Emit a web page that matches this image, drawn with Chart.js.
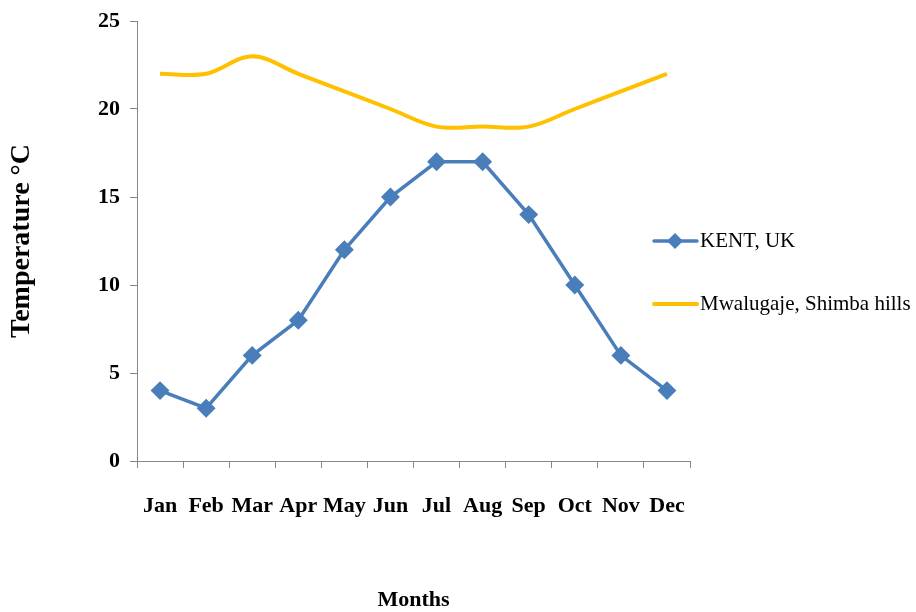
<!DOCTYPE html>
<html>
<head>
<meta charset="utf-8">
<script src="https://cdn.jsdelivr.net/npm/chart.js@4.4.0/dist/chart.umd.min.js"></script>
<style>
  html, body { margin: 0; padding: 0; background: #fff; }
  #wrap { width: 916px; height: 612px; position: relative; }
</style>
</head>
<body>
<div id="wrap"><canvas id="c" width="916" height="612"></canvas></div>
<script>
const months = ['Jan','Feb','Mar','Apr','May','Jun','Jul','Aug','Sep','Oct','Nov','Dec'];
const kentUK = [4, 3, 6, 8, 12, 15, 17, 17, 14, 10, 6, 4];
const mwalugaje = [22, 22, 23, 22, 21, 20, 19, 19, 19, 20, 21, 22];
const yTicks = [0, 5, 10, 15, 20, 25];
const seriesNames = ['KENT, UK', 'Mwalugaje, Shimba hills'];

const FONT = '"Liberation Serif", "Times New Roman", serif';
const AXIS_GRAY = '#868686';

const legendPlugin = {
  id: 'customLegend',
  afterDraw(chart) {
    const ctx = chart.ctx;
    const ca = chart.chartArea;
    const x0 = ca.right - 36;
    const rows = [ca.top + 220, ca.top + 283];
    ctx.save();
    chart.data.datasets.forEach((ds, i) => {
      const y = rows[i];
      ctx.strokeStyle = ds.borderColor;
      ctx.lineWidth = ds.borderWidth;
      ctx.lineCap = 'round';
      ctx.beginPath();
      ctx.moveTo(x0, y);
      ctx.lineTo(x0 + 43, y);
      ctx.stroke();
      if (ds.pointRadius > 0) {
        ctx.fillStyle = ds.pointBackgroundColor;
        ctx.beginPath();
        const r = ds.pointRadius + 1;
        const cx = x0 + 21;
        ctx.moveTo(cx - r, y);
        ctx.lineTo(cx, y - r);
        ctx.lineTo(cx + r, y);
        ctx.lineTo(cx, y + r);
        ctx.closePath();
        ctx.fill();
      }
      ctx.fillStyle = '#000';
      ctx.font = '21px ' + FONT;
      ctx.textBaseline = 'middle';
      ctx.textAlign = 'left';
      ctx.fillText(ds.label, x0 + 46, y);
    });
    ctx.restore();
  }
};

new Chart(document.getElementById('c'), {
  type: 'line',
  data: {
    labels: months,
    datasets: [
      {
        label: seriesNames[0],
        data: kentUK,
        borderColor: '#4A7EBB',
        backgroundColor: '#4A7EBB',
        pointBackgroundColor: '#4A7EBB',
        pointBorderColor: '#4A7EBB',
        borderWidth: 3.5,
        pointStyle: 'rectRot',
        pointRadius: 7,
        tension: 0,
        order: 2
      },
      {
        label: seriesNames[1],
        data: mwalugaje,
        borderColor: '#FFC000',
        backgroundColor: '#FFC000',
        borderWidth: 4,
        pointRadius: 0,
        cubicInterpolationMode: 'default',
        tension: 0.35,
        order: 1
      }
    ]
  },
  options: {
    responsive: false,
    animation: false,
    layout: { autoPadding: false, padding: { left: 0, right: 226, top: 13, bottom: 0 } },
    plugins: {
      legend: { display: false },
      tooltip: { enabled: false }
    },
    scales: {
      x: {
        offset: true,
        grid: {
          offset: true,
          drawOnChartArea: false,
          drawTicks: true,
          tickLength: 7,
          color: AXIS_GRAY,
          lineWidth: 1
        },
        border: { color: AXIS_GRAY, width: 1 },
        ticks: {
          color: '#000',
          padding: 25,
          font: { family: FONT, size: 22, weight: 'bold' },
          maxRotation: 0,
          autoSkip: false
        },
        title: {
          display: true,
          text: 'Months',
          color: '#000',
          font: { family: FONT, size: 22, weight: 'bold' },
          padding: { top: 0, bottom: -2 }
        },
        afterFit(s) { s.height = 612 - 461; }
      },
      y: {
        min: 0,
        max: 25,
        afterBuildTicks(s) { s.ticks = yTicks.map(v => ({ value: v })); },
        grid: {
          drawOnChartArea: false,
          drawTicks: true,
          tickLength: 7,
          color: AXIS_GRAY,
          lineWidth: 1
        },
        border: { color: AXIS_GRAY, width: 1 },
        ticks: {
          color: '#000',
          padding: 10,
          font: { family: FONT, size: 22, weight: 'bold', lineHeight: 1 }
        },
        title: {
          display: true,
          text: 'Temperature °C',
          color: '#000',
          font: { family: FONT, size: 28, weight: 'bold' },
          padding: { top: 5, bottom: 0 }
        },
        afterFit(s) { s.width = 137; }
      }
    }
  },
  plugins: [legendPlugin]
});
</script>
</body>
</html>
